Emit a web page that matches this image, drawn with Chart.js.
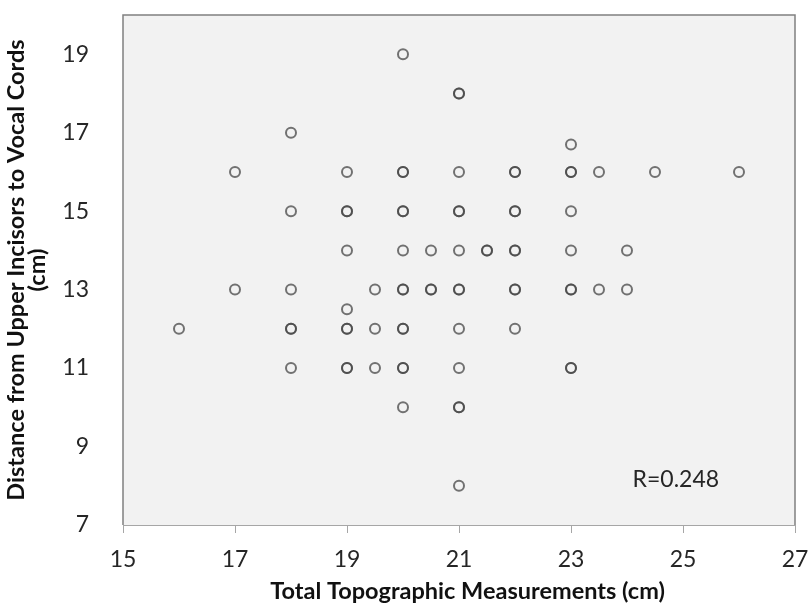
<!DOCTYPE html>
<html>
<head>
<meta charset="utf-8">
<script src="https://cdn.jsdelivr.net/npm/chart.js@4/dist/chart.umd.min.js"></script>
<style>
  html, body { margin: 0; padding: 0; background: #fff; }
  #wrap { width: 809px; height: 607px; }
</style>
</head>
<body>
<div id="wrap"><canvas id="c" width="809" height="607"></canvas></div>
<script>
// Total topographic measurement (x) vs distance upper incisors -> vocal cords (y)
// repeated pairs are overlapping subjects (drawn darker in the source)
const topo = [
  16,
  17, 17,
  18, 18, 18, 18, 18, 18,
  19, 19, 19, 19, 19, 19, 19, 19, 19,
  19.5, 19.5, 19.5,
  20, 20, 20, 20, 20, 20, 20, 20, 20, 20, 20, 20, 20,
  20.5, 20.5, 20.5,
  21, 21, 21, 21, 21, 21, 21, 21, 21, 21, 21, 21, 21,
  21.5, 21.5,
  22, 22, 22, 22, 22, 22, 22, 22, 22,
  23, 23, 23, 23, 23, 23, 23, 23, 23,
  23.5, 23.5,
  24, 24,
  24.5,
  26
];
const dist = [
  12,
  16, 13,
  17, 15, 13, 12, 12, 11,
  16, 15, 15, 14, 12.5, 12, 12, 11, 11,
  13, 12, 11,
  19, 16, 16, 15, 15, 14, 13, 13, 12, 12, 11, 11, 10,
  14, 13, 13,
  18, 18, 16, 15, 15, 14, 13, 13, 12, 11, 10, 10, 8,
  14, 14,
  16, 16, 15, 15, 14, 14, 13, 13, 12,
  16.7, 16, 16, 15, 14, 13, 13, 11, 11,
  16, 13,
  14, 13,
  16,
  16
];
const xTicks = [15, 17, 19, 21, 23, 25, 27];
const yTicks = [7, 9, 11, 13, 15, 17, 19];
const rLabel = 'R=0.248';

const FONT = "Lato, 'Open Sans', sans-serif";

const points = topo.map((x, i) => ({ x, y: dist[i] }));

// plot area fill + frame (taken from the scales' own ends), and the R note
const frame = {
  id: 'frame',
  beforeDatasetsDraw(chart) {
    const { ctx, scales: { x, y } } = chart;
    const l = x.getPixelForValue(x.min), r = x.getPixelForValue(x.max);
    const t = y.getPixelForValue(y.max), b = y.getPixelForValue(y.min);
    ctx.save();
    ctx.fillStyle = '#f2f2f2';
    ctx.fillRect(l, t, r - l, b - t);
    ctx.strokeStyle = '#808080';
    ctx.lineWidth = 1.5;
    ctx.beginPath();
    ctx.moveTo(l, b);
    ctx.lineTo(l, t);
    ctx.lineTo(r, t);
    ctx.lineTo(r, b);
    ctx.stroke();
    ctx.strokeStyle = '#a6a6a6';
    ctx.lineWidth = 1;
    ctx.beginPath();
    ctx.moveTo(l, b + 0.5);
    ctx.lineTo(r, b + 0.5);
    ctx.stroke();
    ctx.restore();
  },
  afterDatasetsDraw(chart) {
    const { ctx, scales } = chart;
    ctx.save();
    ctx.font = `23px ${FONT}`;
    ctx.fillStyle = '#262626';
    ctx.textAlign = 'left';
    ctx.textBaseline = 'middle';
    ctx.fillText(rLabel, scales.x.getPixelForValue(24.1), scales.y.getPixelForValue(8.17));
    ctx.restore();
  }
};

new Chart(document.getElementById('c'), {
  type: 'scatter',
  data: {
    datasets: [{
      data: points,
      pointStyle: 'circle',
      pointRadius: 5,
      pointHoverRadius: 5,
      pointBorderWidth: 2,
      pointBackgroundColor: 'rgba(0,0,0,0)',
      pointBorderColor: 'rgba(70,70,70,0.75)',
    }]
  },
  options: {
    responsive: false, animation: false,
    layout: { padding: { top: 15, right: 14, left: 0, bottom: 0 } },
    plugins: { legend: { display: false }, tooltip: { enabled: false } },
    scales: {
      x: {
        type: 'linear', min: 15, max: 27,
        afterBuildTicks: s => { s.ticks = xTicks.map(v => ({ value: v })); },
        afterFit: s => { s.height = 82; s.paddingLeft = 0; s.paddingRight = 0; },
        border: { display: false },
        grid: { drawOnChartArea: false, drawTicks: true, tickLength: 8, color: '#a6a6a6' },
        ticks: { color: '#262626', padding: 13, maxRotation: 0,
                 font: { family: FONT, size: 23 } },
        title: {
          display: true, text: '   Total Topographic Measurements (cm)', color: '#111',
          font: { family: FONT, size: 23.5, weight: 'bold', lineHeight: 1.1 },
          padding: { top: 0, bottom: 3 }
        }
      },
      y: {
        type: 'linear', min: 7, max: 20,
        afterBuildTicks: s => { s.ticks = yTicks.map(v => ({ value: v })); },
        afterFit: s => { s.width = 123; s.paddingTop = 0; s.paddingBottom = 0; },
        border: { display: false },
        grid: { display: false },
        ticks: { color: '#262626', padding: 26,
                 font: { family: FONT, size: 23 } },
        title: {
          display: true,
          text: ['Distance from Upper Incisors to Vocal Cords', '(cm)'],
          color: '#111',
          font: { family: FONT, size: 23.5, weight: 'bold', lineHeight: 0.9 },
          padding: { top: 6, bottom: 0 }
        }
      }
    }
  },
  plugins: [frame]
});
</script>
</body>
</html>
